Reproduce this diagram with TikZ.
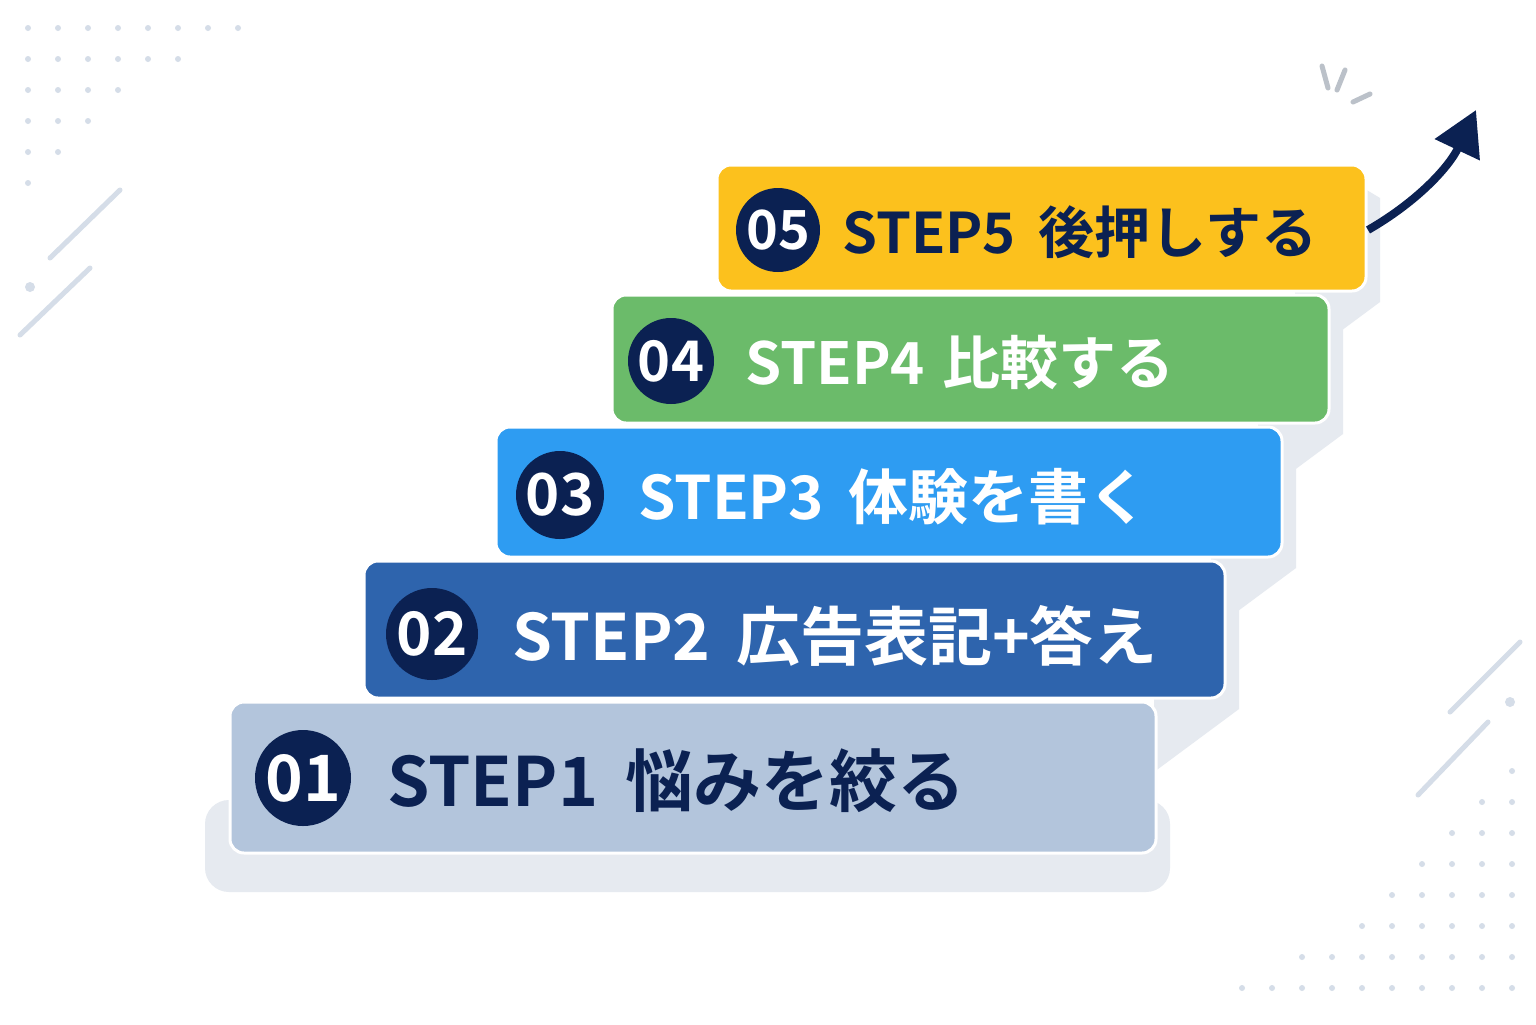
\documentclass[tikz,border=0pt]{standalone}
\usepackage{fontspec}
\setmainfont{Noto Sans CJK JP}[BoldFont={* Bold}]
\usetikzlibrary{arrows.meta}
\definecolor{navy}{HTML}{0B2152}
\definecolor{shad}{HTML}{E6EAF0}
\definecolor{deco}{HTML}{D5DDE8}
\definecolor{c1}{HTML}{B3C5DC}
\definecolor{c2}{HTML}{2E64AD}
\definecolor{c3}{HTML}{2E9CF2}
\definecolor{c4}{HTML}{6BBB6A}
\definecolor{c5}{HTML}{FCC11D}
\begin{document}
\begin{tikzpicture}[x=0.5pt,y=-0.5pt,
  stepbox/.style={rounded corners=7pt,draw=white,line width=1.5pt},
  num/.style={circle,fill=navy,text=white,inner sep=0pt,minimum size=#1},
  lbl/.style={anchor=west,font=\bfseries\fontsize{#1}{#1}\selectfont,inner sep=0pt}]
\fill[white] (0,0) rectangle (1536,1024);
\useasboundingbox (0,0) rectangle (1536,1024);
% decoration dots
\foreach \r/\n in {0/8,1/6,2/4,3/3,4/2,5/1}{
  \foreach \i in {1,...,\n}{\fill[deco] ({28+30*(\i-1)},{28+31*\r}) circle (3);}}
\foreach \r/\n in {0/10,1/8,2/6,3/5,4/4,5/3,6/2,7/1}{
  \foreach \i in {1,...,\n}{\fill[deco] ({1512-30*(\i-1)},{988-31*\r}) circle (3);}}
\draw[deco,line width=2.5pt,line cap=round] (50,258)--(120,190) (20,335)--(90,268);
\fill[deco] (30,287) circle (5);
\draw[deco,line width=2.5pt,line cap=round] (1450,712)--(1520,642) (1418,795)--(1488,722);
\fill[deco] (1510,702) circle (5);
% sparkles
\draw[deco!70!gray,line width=2.5pt,line cap=round] (1322,66)--(1328,88) (1345,70)--(1337,90) (1353,102)--(1370,94);
% shadows
\fill[shad,rounded corners=12pt] (205,800) rectangle (1170,892);
\foreach \xa/\ya/\yb in {1224/562/697,1281/428/556,1328/296/422,1365/166/290}{
  \fill[shad] (\xa-5,\ya+20) -- (\xa+15,\ya+32) -- (\xa+15,\yb+12) -- (\xa-70,\yb+75) -- (\xa-70,\yb) -- cycle;}
% boxes
\draw[stepbox,fill=c1] (230,702) rectangle (1156,853);
\draw[stepbox,fill=c2] (364,561) rectangle (1225,698);
\draw[stepbox,fill=c3] (496,427) rectangle (1282,557);
\draw[stepbox,fill=c4] (612,295) rectangle (1329,423);
\draw[stepbox,fill=c5] (717,165) rectangle (1366,291);
% numbers
\node[num=48pt,font=\bfseries\fontsize{32}{32}\selectfont] (n1) at (303,778) {01};
\node[num=46pt,font=\bfseries\fontsize{30}{30}\selectfont] (n2) at (432,634) {02};
\node[num=44pt,font=\bfseries\fontsize{29}{29}\selectfont] (n3) at (560,495) {03};
\node[num=43pt,font=\bfseries\fontsize{28}{28}\selectfont] (n4) at (671,361) {04};
\node[num=42pt,font=\bfseries\fontsize{27}{27}\selectfont] (n5) at (778,230) {05};
% labels
\node[lbl=34,text=navy] (t1) at (387,781) {STEP1\hspace{0.4em}悩みを絞る};
\node[lbl=32,text=white] (t2) at (512,636) {STEP2\hspace{0.4em}広告表記+答え};
\node[lbl=30,text=white] (t3) at (638,497) {STEP3\hspace{0.4em}体験を書く};
\node[lbl=29,text=white] (t4) at (745,363) {STEP4\hspace{0.3em}比較する};
\node[lbl=28,text=navy] (t5) at (842,232) {STEP5\hspace{0.4em}後押しする};
% arrow
\coordinate (a0) at (1368,230);
\coordinate (a1) at (1476,110);
\draw[navy,line width=4pt,-{Triangle[length=22pt,width=24pt]}] (a0) .. controls (1420,200) and (1450,165) .. (a1);
\end{tikzpicture}
\end{document}
